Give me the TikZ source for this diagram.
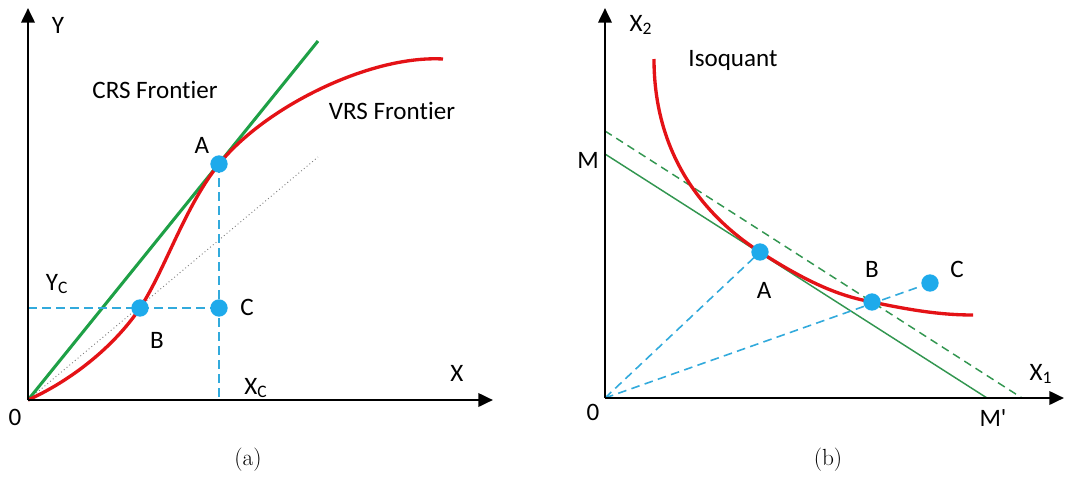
\documentclass[tikz,border=0pt]{standalone}
\usepackage{fontspec}
\newfontfamily\lblfont[Ligatures=NoCommon]{Carlito}
\usetikzlibrary{arrows.meta}
\definecolor{redc}{RGB}{228,18,22}
\definecolor{greenc}{RGB}{30,160,70}
\definecolor{greenr}{RGB}{50,150,80}
\definecolor{dotblue}{RGB}{30,170,235}
\definecolor{dashblue}{RGB}{50,170,220}
\begin{document}
\begin{tikzpicture}[x=0.75pt,y=-0.75pt,
  lbl/.style={font=\lblfont\fontsize{18.8}{20}\selectfont, inner sep=0pt},
  captxt/.style={font=\fontsize{17.5}{20}\selectfont, inner sep=0pt},
  axis/.style={line width=2pt, -{Triangle[length=11pt,width=10pt]}},
  dotc/.style={circle, fill=dotblue, inner sep=0pt, minimum size=13pt},
  bdash/.style={dashblue, line width=1.2pt, dash pattern=on 6.5pt off 4pt},
  gdash/.style={greenr, line width=1.1pt, dash pattern=on 6pt off 4pt},
  redcurve/.style={redc, line width=2.5pt},
]
\useasboundingbox (0,0) rectangle (1065,479);
% ---------- panel (a) ----------
\coordinate (O1) at (28,400);
\coordinate (Ytip1) at (28,8);
\coordinate (Xtip1) at (493,400);
\coordinate (Dend) at (318,157);
\coordinate (Gend) at (318,41);
\coordinate (Yc) at (28,308);
\coordinate (Xc) at (219,400);
\draw[gray, dotted, line width=0.7pt] (O1) -- (Dend);
\draw[greenc, line width=2.3pt] (O1) -- (Gend);
\draw[redcurve] (O1) .. controls (70,381) and (113,348) .. (140,308)
  .. controls (165,270) and (185,206) .. (219,164)
  .. controls (265,107) and (370,55) .. (443,59);
\draw[bdash] (Yc) -- (219,308);
\draw[bdash] (219,164) -- (Xc);
\draw[axis] (O1) -- (Ytip1);
\draw[axis] (O1) -- (Xtip1);
\node[dotc] (A1) at (219,164) {};
\node[dotc] (B1) at (140,308) {};
\node[dotc] (C1) at (219,308) {};
\node[lbl] (ylab) at (58,25) {Y};
\node[lbl] (crs) at (155,90) {CRS Frontier};
\node[lbl] (vrs) at (392,111) {VRS Frontier};
\node[lbl] (la1) at (202,145) {A};
\node[lbl] (lyc) at (57,284) {Y\textsubscript{C}};
\node[lbl] (lc1) at (247,307) {C};
\node[lbl] (lb1) at (157,340) {B};
\node[lbl] (lx) at (457,373) {X};
\node[lbl] (lxc) at (256,388) {X\textsubscript{C}};
\node[lbl] (l01) at (15,417) {0};
\node[captxt] (capa) at (248,460) {(a)};
% ---------- panel (b) ----------
\coordinate (O2) at (605,398);
\coordinate (Ytip2) at (605,8);
\coordinate (Xtip2) at (1064,398);
\coordinate (M) at (605,154);
\coordinate (Mp) at (987,398);
\coordinate (D1) at (605,131);
\coordinate (D2) at (1022,398);
\draw[greenr, line width=1.1pt] (M) -- (Mp);
\draw[gdash] (D1) -- (D2);
\node[dotc] (C2) at (930,283) {};
\draw[bdash] (O2) -- (760,252);
\draw[bdash] (O2) -- (C2);
\draw[redcurve] (654,59) .. controls (654,165) and (715,223) .. (760,252)
  .. controls (810,284) and (840,296) .. (872,302)
  .. controls (910,310) and (940,315) .. (973,315);
\draw[axis] (O2) -- (Ytip2);
\draw[axis] (O2) -- (Xtip2);
\node[dotc] (A2) at (760,252) {};
\node[dotc] (B2) at (872,302) {};
\node[lbl] (lx2) at (641,25) {X\textsubscript{2}};
\node[lbl] (iso) at (733,60) {Isoquant};
\node[lbl] (lm) at (588,160) {M};
\node[lbl] (la2) at (764,290) {A};
\node[lbl] (lb2) at (872,269) {B};
\node[lbl] (lc2) at (957,269) {C};
\node[lbl] (lx1) at (1041,374) {X\textsubscript{1}};
\node[lbl] (l02) at (593,412) {0};
\node[lbl] (lmp) at (993,418) {M'};
\node[captxt] (capb) at (828,460) {(b)};
\end{tikzpicture}
\end{document}
